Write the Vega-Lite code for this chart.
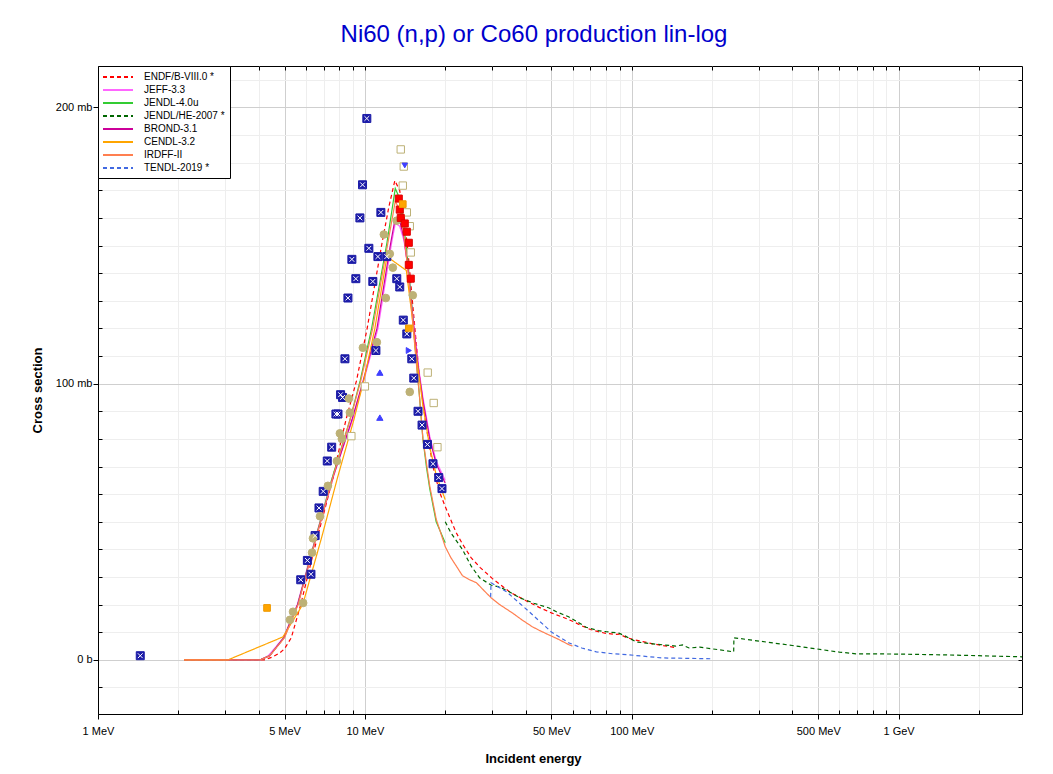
{
  "$schema": "https://vega.github.io/schema/vega-lite/v6.json",
  "width": 924,
  "height": 648,
  "autosize": "none",
  "padding": {"left": 98, "top": 66, "right": 31, "bottom": 60},
  "background": "white",
  "title": {"text": "Ni60 (n,p) or Co60 production lin-log", "font": "Liberation Sans", "fontSize": 24, "fontWeight": "normal", "color": "#0000cc", "anchor": "middle", "dx": -26, "dy": 23, "offset": 23, "baseline": "alphabetic", "frame": "group"},
  "config": {"view": {"stroke": "black", "strokeWidth": 1}, "font": "Liberation Sans"},
  "resolve": {"axis": {"x": "independent", "y": "independent"}},
  "datasets": {
    "curves": [
      {"lib": "ENDF/B-VIII.0 *", "E": 2.1, "s": 0}, {"lib": "ENDF/B-VIII.0 *", "E": 3, "s": 0}, {"lib": "ENDF/B-VIII.0 *", "E": 4.2, "s": 0}, {"lib": "ENDF/B-VIII.0 *", "E": 4.5, "s": 1}, {"lib": "ENDF/B-VIII.0 *", "E": 4.8, "s": 2.5}, {"lib": "ENDF/B-VIII.0 *", "E": 5, "s": 4}, {"lib": "ENDF/B-VIII.0 *", "E": 5.3, "s": 8}, {"lib": "ENDF/B-VIII.0 *", "E": 5.75, "s": 20}, {"lib": "ENDF/B-VIII.0 *", "E": 6.2, "s": 33}, {"lib": "ENDF/B-VIII.0 *", "E": 6.65, "s": 44.6}, {"lib": "ENDF/B-VIII.0 *", "E": 7.1, "s": 55}, {"lib": "ENDF/B-VIII.0 *", "E": 7.6, "s": 66}, {"lib": "ENDF/B-VIII.0 *", "E": 8.0, "s": 76}, {"lib": "ENDF/B-VIII.0 *", "E": 8.5, "s": 87}, {"lib": "ENDF/B-VIII.0 *", "E": 9.3, "s": 101}, {"lib": "ENDF/B-VIII.0 *", "E": 10.2, "s": 120}, {"lib": "ENDF/B-VIII.0 *", "E": 10.9, "s": 136}, {"lib": "ENDF/B-VIII.0 *", "E": 11.6, "s": 151}, {"lib": "ENDF/B-VIII.0 *", "E": 12.3, "s": 164}, {"lib": "ENDF/B-VIII.0 *", "E": 12.95, "s": 173.5}, {"lib": "ENDF/B-VIII.0 *", "E": 13.5, "s": 170}, {"lib": "ENDF/B-VIII.0 *", "E": 14, "s": 161}, {"lib": "ENDF/B-VIII.0 *", "E": 14.5, "s": 148}, {"lib": "ENDF/B-VIII.0 *", "E": 15, "s": 132}, {"lib": "ENDF/B-VIII.0 *", "E": 15.5, "s": 117}, {"lib": "ENDF/B-VIII.0 *", "E": 16, "s": 103}, {"lib": "ENDF/B-VIII.0 *", "E": 17, "s": 84}, {"lib": "ENDF/B-VIII.0 *", "E": 18, "s": 70}, {"lib": "ENDF/B-VIII.0 *", "E": 19, "s": 61}, {"lib": "ENDF/B-VIII.0 *", "E": 20, "s": 55.5}, {"lib": "ENDF/B-VIII.0 *", "E": 22, "s": 46}, {"lib": "ENDF/B-VIII.0 *", "E": 23.2, "s": 42}, {"lib": "ENDF/B-VIII.0 *", "E": 25, "s": 37}, {"lib": "ENDF/B-VIII.0 *", "E": 27, "s": 33.5}, {"lib": "ENDF/B-VIII.0 *", "E": 30, "s": 29.5}, {"lib": "ENDF/B-VIII.0 *", "E": 35, "s": 24.5}, {"lib": "ENDF/B-VIII.0 *", "E": 40, "s": 21.5}, {"lib": "ENDF/B-VIII.0 *", "E": 45, "s": 19}, {"lib": "ENDF/B-VIII.0 *", "E": 50, "s": 17}, {"lib": "ENDF/B-VIII.0 *", "E": 55, "s": 15.5}, {"lib": "ENDF/B-VIII.0 *", "E": 60, "s": 14}, {"lib": "ENDF/B-VIII.0 *", "E": 65, "s": 12.3}, {"lib": "ENDF/B-VIII.0 *", "E": 70, "s": 11}, {"lib": "ENDF/B-VIII.0 *", "E": 75, "s": 10.2}, {"lib": "ENDF/B-VIII.0 *", "E": 80, "s": 9.6}, {"lib": "ENDF/B-VIII.0 *", "E": 87, "s": 9.2}, {"lib": "ENDF/B-VIII.0 *", "E": 90, "s": 9.3}, {"lib": "ENDF/B-VIII.0 *", "E": 95, "s": 8.2}, {"lib": "ENDF/B-VIII.0 *", "E": 100, "s": 7.5}, {"lib": "ENDF/B-VIII.0 *", "E": 110, "s": 6.6}, {"lib": "ENDF/B-VIII.0 *", "E": 120, "s": 5.8}, {"lib": "ENDF/B-VIII.0 *", "E": 130, "s": 5.2}, {"lib": "ENDF/B-VIII.0 *", "E": 145, "s": 4.5},

      {"lib": "JEFF-3.3", "E": 2.1, "s": 0}, {"lib": "JEFF-3.3", "E": 4.05, "s": 0}, {"lib": "JEFF-3.3", "E": 4.35, "s": 1.5}, {"lib": "JEFF-3.3", "E": 4.95, "s": 8}, {"lib": "JEFF-3.3", "E": 5.58, "s": 20}, {"lib": "JEFF-3.3", "E": 6.55, "s": 44.6}, {"lib": "JEFF-3.3", "E": 7.55, "s": 66}, {"lib": "JEFF-3.3", "E": 9.0, "s": 87}, {"lib": "JEFF-3.3", "E": 9.9, "s": 101}, {"lib": "JEFF-3.3", "E": 11.2, "s": 120}, {"lib": "JEFF-3.3", "E": 12.6, "s": 151}, {"lib": "JEFF-3.3", "E": 13.0, "s": 158}, {"lib": "JEFF-3.3", "E": 13.5, "s": 157}, {"lib": "JEFF-3.3", "E": 14, "s": 152}, {"lib": "JEFF-3.3", "E": 14.5, "s": 142}, {"lib": "JEFF-3.3", "E": 15, "s": 128}, {"lib": "JEFF-3.3", "E": 15.5, "s": 115}, {"lib": "JEFF-3.3", "E": 16, "s": 104}, {"lib": "JEFF-3.3", "E": 16.5, "s": 95}, {"lib": "JEFF-3.3", "E": 17.5, "s": 81}, {"lib": "JEFF-3.3", "E": 18.5, "s": 72}, {"lib": "JEFF-3.3", "E": 20, "s": 65},

      {"lib": "JENDL-4.0u", "E": 2.1, "s": 0}, {"lib": "JENDL-4.0u", "E": 4.05, "s": 0}, {"lib": "JENDL-4.0u", "E": 4.4, "s": 1.5}, {"lib": "JENDL-4.0u", "E": 4.97, "s": 8}, {"lib": "JENDL-4.0u", "E": 5.6, "s": 20}, {"lib": "JENDL-4.0u", "E": 6.56, "s": 44.6}, {"lib": "JENDL-4.0u", "E": 7.55, "s": 66}, {"lib": "JENDL-4.0u", "E": 8.8, "s": 87}, {"lib": "JENDL-4.0u", "E": 9.6, "s": 101}, {"lib": "JENDL-4.0u", "E": 10.6, "s": 120}, {"lib": "JENDL-4.0u", "E": 12.1, "s": 151}, {"lib": "JENDL-4.0u", "E": 13.0, "s": 170.7}, {"lib": "JENDL-4.0u", "E": 13.5, "s": 167}, {"lib": "JENDL-4.0u", "E": 14, "s": 157}, {"lib": "JENDL-4.0u", "E": 14.5, "s": 144}, {"lib": "JENDL-4.0u", "E": 15, "s": 128}, {"lib": "JENDL-4.0u", "E": 15.5, "s": 111}, {"lib": "JENDL-4.0u", "E": 16, "s": 96}, {"lib": "JENDL-4.0u", "E": 16.5, "s": 80}, {"lib": "JENDL-4.0u", "E": 17, "s": 70}, {"lib": "JENDL-4.0u", "E": 17.5, "s": 62}, {"lib": "JENDL-4.0u", "E": 18.5, "s": 50}, {"lib": "JENDL-4.0u", "E": 20, "s": 42.4},

      {"lib": "JENDL/HE-2007 *", "E": 20, "s": 50}, {"lib": "JENDL/HE-2007 *", "E": 21, "s": 46}, {"lib": "JENDL/HE-2007 *", "E": 23.2, "s": 40}, {"lib": "JENDL/HE-2007 *", "E": 25, "s": 34}, {"lib": "JENDL/HE-2007 *", "E": 26.9, "s": 29.7}, {"lib": "JENDL/HE-2007 *", "E": 29.8, "s": 27}, {"lib": "JENDL/HE-2007 *", "E": 32, "s": 26.4}, {"lib": "JENDL/HE-2007 *", "E": 35, "s": 24.5}, {"lib": "JENDL/HE-2007 *", "E": 38, "s": 22.5}, {"lib": "JENDL/HE-2007 *", "E": 43, "s": 20.5}, {"lib": "JENDL/HE-2007 *", "E": 49, "s": 18.8}, {"lib": "JENDL/HE-2007 *", "E": 52, "s": 17.5}, {"lib": "JENDL/HE-2007 *", "E": 55, "s": 16.5}, {"lib": "JENDL/HE-2007 *", "E": 58, "s": 15.6}, {"lib": "JENDL/HE-2007 *", "E": 62, "s": 14}, {"lib": "JENDL/HE-2007 *", "E": 67.5, "s": 11.8}, {"lib": "JENDL/HE-2007 *", "E": 75, "s": 10.6}, {"lib": "JENDL/HE-2007 *", "E": 80, "s": 10.2}, {"lib": "JENDL/HE-2007 *", "E": 87.5, "s": 9.8}, {"lib": "JENDL/HE-2007 *", "E": 90, "s": 9.6}, {"lib": "JENDL/HE-2007 *", "E": 95, "s": 8.5}, {"lib": "JENDL/HE-2007 *", "E": 104, "s": 6.5}, {"lib": "JENDL/HE-2007 *", "E": 120, "s": 5.8}, {"lib": "JENDL/HE-2007 *", "E": 146, "s": 5}, {"lib": "JENDL/HE-2007 *", "E": 155, "s": 5.4}, {"lib": "JENDL/HE-2007 *", "E": 164, "s": 4.3}, {"lib": "JENDL/HE-2007 *", "E": 180, "s": 4.6}, {"lib": "JENDL/HE-2007 *", "E": 200, "s": 4}, {"lib": "JENDL/HE-2007 *", "E": 241, "s": 2.9}, {"lib": "JENDL/HE-2007 *", "E": 241.5, "s": 8}, {"lib": "JENDL/HE-2007 *", "E": 300, "s": 6.8}, {"lib": "JENDL/HE-2007 *", "E": 400, "s": 5.2}, {"lib": "JENDL/HE-2007 *", "E": 490, "s": 4}, {"lib": "JENDL/HE-2007 *", "E": 600, "s": 2.8}, {"lib": "JENDL/HE-2007 *", "E": 692, "s": 2.2}, {"lib": "JENDL/HE-2007 *", "E": 989, "s": 2.1}, {"lib": "JENDL/HE-2007 *", "E": 1500, "s": 1.8}, {"lib": "JENDL/HE-2007 *", "E": 2000, "s": 1.5}, {"lib": "JENDL/HE-2007 *", "E": 2900, "s": 1.1},

      {"lib": "BROND-3.1", "E": 2.1, "s": 0}, {"lib": "BROND-3.1", "E": 4.05, "s": 0}, {"lib": "BROND-3.1", "E": 4.4, "s": 1.5}, {"lib": "BROND-3.1", "E": 4.97, "s": 8}, {"lib": "BROND-3.1", "E": 5.6, "s": 20}, {"lib": "BROND-3.1", "E": 6.58, "s": 44.6}, {"lib": "BROND-3.1", "E": 7.6, "s": 66}, {"lib": "BROND-3.1", "E": 8.95, "s": 87}, {"lib": "BROND-3.1", "E": 9.85, "s": 101}, {"lib": "BROND-3.1", "E": 11.1, "s": 120}, {"lib": "BROND-3.1", "E": 12.5, "s": 151}, {"lib": "BROND-3.1", "E": 13.0, "s": 160}, {"lib": "BROND-3.1", "E": 13.5, "s": 159}, {"lib": "BROND-3.1", "E": 14, "s": 153}, {"lib": "BROND-3.1", "E": 14.5, "s": 142}, {"lib": "BROND-3.1", "E": 15, "s": 127}, {"lib": "BROND-3.1", "E": 15.5, "s": 114}, {"lib": "BROND-3.1", "E": 16, "s": 103}, {"lib": "BROND-3.1", "E": 16.5, "s": 94}, {"lib": "BROND-3.1", "E": 17.5, "s": 80}, {"lib": "BROND-3.1", "E": 18.5, "s": 71}, {"lib": "BROND-3.1", "E": 20, "s": 64},

      {"lib": "CENDL-3.2", "E": 2.1, "s": 0}, {"lib": "CENDL-3.2", "E": 3.07, "s": 0}, {"lib": "CENDL-3.2", "E": 4.93, "s": 8.3}, {"lib": "CENDL-3.2", "E": 5.85, "s": 20}, {"lib": "CENDL-3.2", "E": 6.9, "s": 44.6}, {"lib": "CENDL-3.2", "E": 7.9, "s": 66}, {"lib": "CENDL-3.2", "E": 9.1, "s": 87}, {"lib": "CENDL-3.2", "E": 9.9, "s": 101}, {"lib": "CENDL-3.2", "E": 10.9, "s": 120}, {"lib": "CENDL-3.2", "E": 12.1, "s": 146}, {"lib": "CENDL-3.2", "E": 14.3, "s": 141}, {"lib": "CENDL-3.2", "E": 15, "s": 125}, {"lib": "CENDL-3.2", "E": 15.5, "s": 112}, {"lib": "CENDL-3.2", "E": 16, "s": 102}, {"lib": "CENDL-3.2", "E": 16.5, "s": 92}, {"lib": "CENDL-3.2", "E": 17.5, "s": 77}, {"lib": "CENDL-3.2", "E": 18.5, "s": 67}, {"lib": "CENDL-3.2", "E": 20, "s": 58},

      {"lib": "IRDFF-II", "E": 2.1, "s": 0}, {"lib": "IRDFF-II", "E": 4.05, "s": 0}, {"lib": "IRDFF-II", "E": 4.4, "s": 1.5}, {"lib": "IRDFF-II", "E": 5.0, "s": 8}, {"lib": "IRDFF-II", "E": 5.62, "s": 20}, {"lib": "IRDFF-II", "E": 6.58, "s": 44.6}, {"lib": "IRDFF-II", "E": 7.58, "s": 66}, {"lib": "IRDFF-II", "E": 8.8, "s": 87}, {"lib": "IRDFF-II", "E": 9.65, "s": 101}, {"lib": "IRDFF-II", "E": 10.7, "s": 120}, {"lib": "IRDFF-II", "E": 12.2, "s": 151}, {"lib": "IRDFF-II", "E": 13.0, "s": 166}, {"lib": "IRDFF-II", "E": 13.5, "s": 163}, {"lib": "IRDFF-II", "E": 14, "s": 154}, {"lib": "IRDFF-II", "E": 14.5, "s": 141}, {"lib": "IRDFF-II", "E": 15, "s": 126}, {"lib": "IRDFF-II", "E": 15.5, "s": 110}, {"lib": "IRDFF-II", "E": 16, "s": 96}, {"lib": "IRDFF-II", "E": 16.5, "s": 80}, {"lib": "IRDFF-II", "E": 17.5, "s": 63}, {"lib": "IRDFF-II", "E": 18.5, "s": 51}, {"lib": "IRDFF-II", "E": 20, "s": 41}, {"lib": "IRDFF-II", "E": 21, "s": 37}, {"lib": "IRDFF-II", "E": 22, "s": 34}, {"lib": "IRDFF-II", "E": 23.2, "s": 30.5}, {"lib": "IRDFF-II", "E": 24.7, "s": 29}, {"lib": "IRDFF-II", "E": 26.2, "s": 27.9}, {"lib": "IRDFF-II", "E": 28, "s": 25}, {"lib": "IRDFF-II", "E": 29.7, "s": 22.5}, {"lib": "IRDFF-II", "E": 32, "s": 20}, {"lib": "IRDFF-II", "E": 35.7, "s": 17}, {"lib": "IRDFF-II", "E": 39, "s": 14.3}, {"lib": "IRDFF-II", "E": 42.4, "s": 12}, {"lib": "IRDFF-II", "E": 45, "s": 10.7}, {"lib": "IRDFF-II", "E": 49, "s": 9}, {"lib": "IRDFF-II", "E": 53, "s": 7.5}, {"lib": "IRDFF-II", "E": 58.4, "s": 5.4}, {"lib": "IRDFF-II", "E": 60, "s": 5},

      {"lib": "TENDL-2019 *", "E": 29.6, "s": 22.8}, {"lib": "TENDL-2019 *", "E": 29.7, "s": 27.9}, {"lib": "TENDL-2019 *", "E": 34, "s": 24.6}, {"lib": "TENDL-2019 *", "E": 41.3, "s": 17.4}, {"lib": "TENDL-2019 *", "E": 50, "s": 10.1}, {"lib": "TENDL-2019 *", "E": 58, "s": 6.2}, {"lib": "TENDL-2019 *", "E": 65, "s": 4.3}, {"lib": "TENDL-2019 *", "E": 73.7, "s": 2.9}, {"lib": "TENDL-2019 *", "E": 85, "s": 2.2}, {"lib": "TENDL-2019 *", "E": 98, "s": 1.8}, {"lib": "TENDL-2019 *", "E": 130, "s": 0.7}, {"lib": "TENDL-2019 *", "E": 200, "s": 0.4}
    ],
    "exp": [
      {"src": "navy", "E": 1.44, "s": 1.5}, {"src": "navy", "E": 5.75, "s": 29}, {"src": "navy", "E": 6.09, "s": 36}, {"src": "navy", "E": 6.28, "s": 31}, {"src": "navy", "E": 6.51, "s": 45}, {"src": "navy", "E": 6.73, "s": 55}, {"src": "navy", "E": 6.98, "s": 61}, {"src": "navy", "E": 7.23, "s": 72}, {"src": "navy", "E": 7.51, "s": 77}, {"src": "navy", "E": 7.79, "s": 89}, {"src": "navy", "E": 7.93, "s": 89}, {"src": "navy", "E": 8.11, "s": 96}, {"src": "navy", "E": 8.25, "s": 95}, {"src": "navy", "E": 8.42, "s": 109}, {"src": "navy", "E": 8.64, "s": 131}, {"src": "navy", "E": 8.94, "s": 145}, {"src": "navy", "E": 9.25, "s": 138}, {"src": "navy", "E": 9.58, "s": 160}, {"src": "navy", "E": 9.8, "s": 172}, {"src": "navy", "E": 10.17, "s": 196}, {"src": "navy", "E": 10.35, "s": 149}, {"src": "navy", "E": 10.71, "s": 137}, {"src": "navy", "E": 11.0, "s": 112}, {"src": "navy", "E": 11.19, "s": 146}, {"src": "navy", "E": 11.48, "s": 162}, {"src": "navy", "E": 12.08, "s": 146}, {"src": "navy", "E": 13.17, "s": 138}, {"src": "navy", "E": 13.51, "s": 135}, {"src": "navy", "E": 13.93, "s": 123}, {"src": "navy", "E": 14.36, "s": 118}, {"src": "navy", "E": 14.99, "s": 109}, {"src": "navy", "E": 15.25, "s": 102}, {"src": "navy", "E": 15.82, "s": 90}, {"src": "navy", "E": 16.38, "s": 85}, {"src": "navy", "E": 17.16, "s": 78}, {"src": "navy", "E": 18.0, "s": 71}, {"src": "navy", "E": 18.91, "s": 66}, {"src": "navy", "E": 19.45, "s": 62},
      {"src": "tanF", "E": 5.24, "s": 14.5}, {"src": "tanF", "E": 5.38, "s": 17.4}, {"src": "tanF", "E": 5.87, "s": 20.6}, {"src": "tanF", "E": 6.34, "s": 38.8}, {"src": "tanF", "E": 6.39, "s": 44}, {"src": "tanF", "E": 6.79, "s": 52}, {"src": "tanF", "E": 7.27, "s": 63}, {"src": "tanF", "E": 7.86, "s": 72}, {"src": "tanF", "E": 8.06, "s": 82}, {"src": "tanF", "E": 8.2, "s": 80}, {"src": "tanF", "E": 8.71, "s": 94.6}, {"src": "tanF", "E": 8.79, "s": 89.5}, {"src": "tanF", "E": 9.83, "s": 113}, {"src": "tanF", "E": 11.09, "s": 115}, {"src": "tanF", "E": 11.78, "s": 154}, {"src": "tanF", "E": 11.98, "s": 131}, {"src": "tanF", "E": 12.4, "s": 147}, {"src": "tanF", "E": 12.73, "s": 142}, {"src": "tanF", "E": 13.17, "s": 159}, {"src": "tanF", "E": 14.73, "s": 97}, {"src": "tanF", "E": 15.12, "s": 132},
      {"src": "tanO", "E": 10.0, "s": 99}, {"src": "tanO", "E": 8.9, "s": 81}, {"src": "tanO", "E": 13.63, "s": 184.8}, {"src": "tanO", "E": 13.99, "s": 178.6}, {"src": "tanO", "E": 13.87, "s": 171.7}, {"src": "tanO", "E": 14.36, "s": 162}, {"src": "tanO", "E": 14.73, "s": 157}, {"src": "tanO", "E": 14.86, "s": 147.5}, {"src": "tanO", "E": 17.2, "s": 104}, {"src": "tanO", "E": 18.11, "s": 93}, {"src": "tanO", "E": 18.7, "s": 77},
      {"src": "red", "E": 13.4, "s": 167}, {"src": "red", "E": 13.51, "s": 163}, {"src": "red", "E": 13.63, "s": 160}, {"src": "red", "E": 14.11, "s": 158}, {"src": "red", "E": 14.36, "s": 155}, {"src": "red", "E": 14.61, "s": 151}, {"src": "red", "E": 14.61, "s": 143}, {"src": "red", "E": 14.86, "s": 138},
      {"src": "orange", "E": 13.87, "s": 165}, {"src": "orange", "E": 14.61, "s": 120}, {"src": "orange", "E": 4.3, "s": 18.8},
      {"src": "blueUp", "E": 11.38, "s": 104}, {"src": "blueUp", "E": 11.38, "s": 87.7},
      {"src": "blueRight", "E": 14.61, "s": 112},
      {"src": "blueDown", "E": 14.11, "s": 179}
    ]
  },
  "layer": [
    {
      "data": {"name": "curves"},
      "mark": {"type": "line", "strokeWidth": 1.2, "clip": true},
      "encoding": {
        "x": {
          "field": "E", "type": "quantitative",
          "scale": {"type": "log", "domain": [1, 2900], "nice": false},
          "axis": {
            "orient": "bottom",
            "values": [1, 5, 10, 50, 100, 500, 1000],
            "labelExpr": "datum.value == 1 ? '1 MeV' : datum.value == 5 ? '5 MeV' : datum.value == 10 ? '10 MeV' : datum.value == 50 ? '50 MeV' : datum.value == 100 ? '100 MeV' : datum.value == 500 ? '500 MeV' : datum.value == 1000 ? '1 GeV' : ''",
            "labelFont": "Liberation Sans", "labelFontSize": 11, "labelColor": "black", "labelPadding": 6, "labelFlush": false, "labelOverlap": false,
            "tickColor": "black", "tickSize": 5,
            "grid": true, "gridColor": "#cfcfcf",
            "domainColor": "black",
            "title": "Incident energy", "titleFont": "Liberation Sans", "titleFontSize": 13, "titleFontWeight": "bold", "titleColor": "black",
            "titleX": 435, "titleY": 48, "titleAlign": "center", "titleBaseline": "alphabetic"
          }
        },
        "y": {
          "field": "s", "type": "quantitative",
          "scale": {"domain": [-19.6, 215], "nice": false, "zero": false},
          "axis": {
            "orient": "left",
            "values": [0, 100, 200],
            "labelExpr": "datum.value == 0 ? '0 b' : datum.value == 100 ? '100 mb' : '200 mb'",
            "labelFont": "Liberation Sans", "labelFontSize": 11, "labelColor": "black", "labelPadding": 1, "labelOverlap": false,
            "tickColor": "black", "tickSize": 5,
            "grid": true, "gridColor": "#cfcfcf",
            "domainColor": "black",
            "title": "Cross section", "titleFont": "Liberation Sans", "titleFontSize": 13, "titleFontWeight": "bold", "titleColor": "black",
            "titleX": -61, "titleY": 324, "titleAngle": -90, "titleAlign": "center", "titleBaseline": "middle"
          }
        },
        "color": {
          "field": "lib", "type": "nominal",
          "scale": {"domain": ["ENDF/B-VIII.0 *", "JEFF-3.3", "JENDL-4.0u", "JENDL/HE-2007 *", "BROND-3.1", "CENDL-3.2", "IRDFF-II", "TENDL-2019 *"],
                    "range": ["#ff0000", "#ff66ff", "#33cc33", "#006600", "#cc0099", "#ffa500", "#ff7f50", "#4169e1"]},
          "legend": {"title": null, "orient": "top-left", "offset": 0, "padding": 5, "strokeColor": "black", "fillColor": "white", "symbolType": "M-3,0H3", "symbolSize": 100, "symbolStrokeWidth": 2, "symbolOffset": 9, "labelFont": "Liberation Sans", "labelFontSize": 10, "labelColor": "black", "labelOffset": 20, "rowPadding": 2, "labelLimit": 200, "cornerRadius": 0}
        },
        "strokeDash": {
          "field": "lib", "type": "nominal",
          "scale": {"domain": ["ENDF/B-VIII.0 *", "JEFF-3.3", "JENDL-4.0u", "JENDL/HE-2007 *", "BROND-3.1", "CENDL-3.2", "IRDFF-II", "TENDL-2019 *"],
                    "range": [[4, 3], [1, 0], [1, 0], [4, 3], [1, 0], [1, 0], [1, 0], [4, 3]]},
          "legend": {"title": null, "orient": "top-left", "offset": 0, "padding": 5, "strokeColor": "black", "fillColor": "white", "symbolType": "M-3,0H3", "symbolSize": 100, "symbolStrokeWidth": 2, "symbolOffset": 9, "labelFont": "Liberation Sans", "labelFontSize": 10, "labelColor": "black", "labelOffset": 20, "rowPadding": 2, "labelLimit": 200, "cornerRadius": 0}
        }
      }
    },
    {
      "data": {"name": "exp"},
      "mark": {"type": "point", "opacity": 1, "strokeWidth": 1, "clip": true},
      "encoding": {
        "x": {"field": "E", "type": "quantitative",
              "axis": {"orient": "bottom", "values": [2, 3, 4, 6, 7, 8, 9, 20, 30, 40, 60, 70, 80, 90, 200, 300, 400, 600, 700, 800, 900, 2000], "labels": false, "tickSize": -4, "tickColor": "black", "grid": true, "gridColor": "#eeeeee", "domain": false, "title": null}},
        "y": {"field": "s", "type": "quantitative",
              "axis": {"orient": "left", "values": [-10, 10, 20, 30, 40, 50, 60, 70, 80, 90, 110, 120, 130, 140, 150, 160, 170, 180, 190, 210], "labels": false, "tickSize": -4, "tickColor": "black", "grid": true, "gridColor": "#eeeeee", "domain": false, "title": null}},
        "shape": {"field": "src", "type": "nominal", "legend": null,
                  "scale": {"domain": ["navy", "tanF", "tanO", "red", "orange", "blueUp", "blueRight", "blueDown"],
                            "range": ["square", "circle", "square", "square", "square", "triangle-up", "triangle-right", "triangle-down"]}},
        "fill": {"field": "src", "type": "nominal", "legend": null,
                 "scale": {"domain": ["navy", "tanF", "tanO", "red", "orange", "blueUp", "blueRight", "blueDown"],
                           "range": ["#1c1ca8", "#bdb176", "#ffffff", "#ff0000", "#ffa500", "#3f3fff", "#3f3fff", "#3f3fff"]}},
        "stroke": {"field": "src", "type": "nominal", "legend": null,
                   "scale": {"domain": ["navy", "tanF", "tanO", "red", "orange", "blueUp", "blueRight", "blueDown"],
                             "range": ["#1c1ca8", "#bdb176", "#bdb176", "#dd0000", "#ee9900", "#3f3fff", "#3f3fff", "#3f3fff"]}},
        "size": {"field": "src", "type": "nominal", "legend": null,
                 "scale": {"domain": ["navy", "tanF", "tanO", "red", "orange", "blueUp", "blueRight", "blueDown"],
                           "range": [64, 30, 40, 45, 45, 36, 36, 36]}}
      }
    },
    {
      "data": {"name": "exp"},
      "transform": [{"filter": "datum.src == 'navy'"}],
      "mark": {"type": "point", "shape": "M-0.6,-0.6L0.6,0.6M0.6,-0.6L-0.6,0.6", "filled": false, "stroke": "white", "strokeWidth": 1, "size": 64, "opacity": 1, "clip": true},
      "encoding": {
        "x": {"field": "E", "type": "quantitative",
              "axis": {"orient": "top", "values": [2, 3, 4, 5, 6, 7, 8, 9, 10, 20, 30, 40, 50, 60, 70, 80, 90, 100, 200, 300, 400, 500, 600, 700, 800, 900, 1000, 2000], "labels": false, "tickSize": -4, "tickColor": "black", "grid": false, "domain": false, "title": null}},
        "y": {"field": "s", "type": "quantitative",
              "axis": {"orient": "right", "values": [-10, 0, 10, 20, 30, 40, 50, 60, 70, 80, 90, 100, 110, 120, 130, 140, 150, 160, 170, 180, 190, 200, 210], "labels": false, "tickSize": -4, "tickColor": "black", "grid": false, "domain": false, "title": null}}
      }
    }
  ]
}
